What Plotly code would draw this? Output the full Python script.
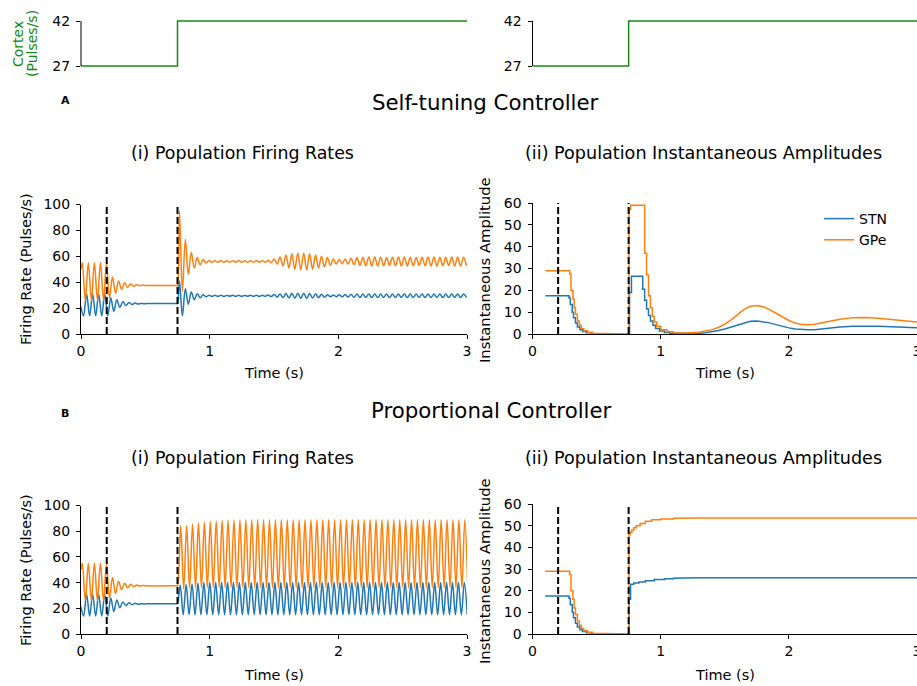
import plotly.graph_objects as go

# ---------------- data ----------------
TIME_RANGE = [0, 3]
TIME_TICKS = [0, 1, 2, 3]
RATE_RANGE = [0, 100]
RATE_TICKS = [0, 20, 40, 60, 80, 100]
AMP_RANGE = [0, 60]
AMP_TICKS = [0, 10, 20, 30, 40, 50, 60]
CORTEX_RANGE = [26.5, 42.5]
CORTEX_TICKS = [27, 42]
EVENT_TIMES = [0.2, 0.75]

CORTEX_T = [0.0, 0.75, 3.0]
CORTEX_RATE = [27, 42, 42]

# Firing rates: successive extrema (peak / trough) of the beta oscillation
PRE_HALF_PERIOD = 0.0235
POST_HALF_PERIOD = 0.023

# shared part, 0 - 0.75 s
PRE_T0 = 0.0
PRE_GPE_V0 = 50
PRE_STN_V0 = 21
PRE_GPE_START = 0.01
PRE_GPE_EXTREMA = [55, 26, 55, 26, 55, 26, 55, 26, 54, 28, 44, 31.5, 41, 34.5,
                   39.5, 36, 38.7, 36.8, 38.1, 37.3, 37.8, 37.5]
PRE_STN_START = 0.02
PRE_STN_EXTREMA = [14, 31, 14, 31, 14, 31, 14, 31, 14, 28, 17.5, 26.5, 20.5, 25,
                   22, 24.3, 22.8, 23.9, 23.2, 23.6, 23.4, 23.5]
PRE_FLAT_T = [0.745, 0.75]
PRE_GPE_STEADY = 37.5
PRE_STN_STEADY = 23.5

# A: self-tuning controller, after 0.75 s
A_POST_START = 0.765
A_POST_GPE = [95, 33, 73, 46, 63, 51, 59, 53.5, 57.5, 54.8, 56.8, 55.3,
              56.6, 55.4, 56.7, 55.3, 56.6, 55.4, 56.6, 55.5, 56.7, 55.4,
              56.6, 55.4, 56.6, 55.3, 56.7, 55.4, 56.6, 55.4,
              57, 55, 58, 54, 59.5, 52.5, 61, 51, 62, 50,
              62.5, 49.5, 62.5, 49.5, 62, 50, 61, 51, 60, 52,
              59, 53, 58, 54, 57.8, 54.2, 58, 54, 58.5, 53.5,
              59, 53, 59.3, 52.7, 59.5, 52.5, 59.5, 52.5, 59.3, 52.7,
              59, 53, 59.3, 52.7, 59.5, 52.5, 59.5, 52.5, 59.3, 52.7,
              59, 53, 59.3, 52.7, 59.5, 52.5, 59.5, 52.5, 59.3, 52.7,
              59.2, 52.8, 59.5, 52.5, 59.5, 52.5, 59.3, 52.7]
A_POST_STN = [41, 14, 35, 23, 32.5, 26.5, 31, 28, 30.3, 28.8, 29.9, 29.1,
              29.9, 29.1, 29.9, 29.1, 29.8, 29.2, 29.9, 29.1, 29.9, 29.1,
              29.8, 29.2, 29.9, 29.1, 29.9, 29.1, 29.9, 29.1,
              30.1, 28.9, 30.5, 28.5, 30.9, 28.1, 31.2, 27.8, 31.4, 27.6,
              31.5, 27.5, 31.5, 27.5, 31.2, 27.8, 30.9, 28.1, 30.6, 28.4,
              30.3, 28.7, 30.2, 28.8, 30.3, 28.7, 30.5, 28.5, 30.7, 28.3,
              30.8, 28.2, 30.8, 28.2, 30.9, 28.1, 30.8, 28.2, 30.8, 28.2,
              30.9, 28.1, 30.8, 28.2, 30.8, 28.2, 30.9, 28.1, 30.8, 28.2,
              30.8, 28.2, 30.9, 28.1, 30.8, 28.2, 30.8, 28.2, 30.9, 28.1,
              30.8, 28.2, 30.8, 28.2, 30.9, 28.1, 30.8, 28.2]

# B: proportional controller, after 0.75 s
B_POST_START = 0.775
B_STN_SHIFT = -0.004
B_GPE_PEAKS = [84, 84.5, 85.5, 86.3, 87, 87.5, 88, 88.3, 88.6, 88.8,
               89, 89, 89, 89, 89, 89, 89, 89, 89, 89,
               89, 89, 89, 89, 89, 89, 89, 89, 89, 89,
               89, 89, 89, 89, 89, 89, 89, 89, 89, 89,
               89, 89, 89, 89, 89, 89, 89, 89, 89]
B_GPE_TROUGHS = [35, 35.5, 36, 36, 36, 36, 36, 36, 36, 36,
                 36, 36, 36, 36, 36, 36, 36, 36, 36, 36,
                 36, 36, 36, 36, 36, 36, 36, 36, 36, 36,
                 36, 36, 36, 36, 36, 36, 36, 36, 36, 36,
                 36, 36, 36, 36, 36, 36, 36, 36, 36]
B_STN_PEAKS = [38, 38.5, 39, 39.5, 39.8, 40, 40, 40, 40, 40,
               40, 40, 40, 40, 40, 40, 40, 40, 40, 40,
               40, 40, 40, 40, 40, 40, 40, 40, 40, 40,
               40, 40, 40, 40, 40, 40, 40, 40, 40, 40,
               40, 40, 40, 40, 40, 40, 40, 40, 40]
B_STN_TROUGHS = [15, 15, 15, 15, 15, 15, 15, 15, 15, 15,
                 15, 15, 15, 15, 15, 15, 15, 15, 15, 15,
                 15, 15, 15, 15, 15, 15, 15, 15, 15, 15,
                 15, 15, 15, 15, 15, 15, 15, 15, 15, 15,
                 15, 15, 15, 15, 15, 15, 15, 15, 15]

# Instantaneous amplitudes: stepped part (value held until next time) then smooth part
AMP_PRE_GPE_T = [0.1, 0.29, 0.30, 0.315, 0.325, 0.335, 0.35, 0.365, 0.38, 0.40,
                 0.43, 0.47, 0.52, 0.58]
AMP_PRE_GPE_V = [29, 27.5, 20, 16, 12, 9, 6, 4, 2.5, 1.5, 0.8, 0.3, 0.1, 0]
AMP_PRE_STN_T = [0.1, 0.285, 0.295, 0.31, 0.32, 0.335, 0.35, 0.37, 0.39, 0.42,
                 0.46, 0.5, 0.55]
AMP_PRE_STN_V = [17.5, 16.5, 13.5, 10, 7.5, 5, 3.2, 2, 1.2, 0.6, 0.25, 0.1, 0]

A_AMP_GPE_STEP_T = [0.753, 0.765, 0.875, 0.89, 0.905, 0.92, 0.935, 0.95, 0.97, 1.0, 1.05, 1.1]
A_AMP_GPE_STEP_V = [57, 59, 37, 27, 17.5, 12, 8, 5.5, 3.5, 2, 1, 0.6]
A_AMP_STN_STEP_T = [0.757, 0.772, 0.86, 0.875, 0.89, 0.905, 0.92, 0.94, 0.96, 0.99, 1.03, 1.07, 1.1]
A_AMP_STN_STEP_V = [19, 26.5, 20.5, 15.5, 11.5, 8.5, 6, 4, 2.5, 1.4, 0.7, 0.35, 0.2]
A_AMP_SMOOTH_T = [1.1, 1.2, 1.3, 1.35, 1.4, 1.45, 1.5, 1.55, 1.6, 1.65, 1.7, 1.75, 1.8,
                  1.85, 1.9, 1.95, 2.0, 2.05, 2.1, 2.15, 2.2, 2.3, 2.4, 2.5, 2.6, 2.7,
                  2.8, 2.9, 3.0]
A_AMP_GPE_SMOOTH = [0.6, 0.5, 0.8, 1.3, 2.0, 3.0, 4.5, 6.5, 9.0, 11.3, 12.7, 13.0, 12.5,
                    11.2, 9.5, 7.7, 6.2, 5.0, 4.3, 4.2, 4.5, 5.6, 6.8, 7.5, 7.6, 7.2,
                    6.6, 5.9, 5.5]
A_AMP_STN_SMOOTH = [0.2, 0.2, 0.4, 0.6, 1.0, 1.6, 2.3, 3.2, 4.3, 5.2, 5.8, 6.0, 5.7,
                    5.1, 4.3, 3.5, 2.8, 2.3, 2.0, 1.9, 2.0, 2.7, 3.2, 3.6, 3.7, 3.6,
                    3.3, 3.0, 2.9]

B_AMP_GPE_STEP_T = [0.753, 0.762, 0.775, 0.79, 0.81, 0.84, 0.88, 0.93, 1.0, 1.1]
B_AMP_GPE_STEP_V = [46, 47, 48, 49, 50, 51, 52, 52.7, 53.1, 53.4]
B_AMP_STN_STEP_T = [0.753, 0.765, 0.79, 0.83, 0.88, 0.95, 1.03, 1.1]
B_AMP_STN_STEP_V = [16, 23, 23.5, 24, 24.6, 25.1, 25.5, 25.7]
B_AMP_SMOOTH_T = [1.1, 1.3, 3.0]
B_AMP_GPE_SMOOTH = [53.4, 53.5, 53.5]
B_AMP_STN_SMOOTH = [25.7, 26, 26]

STN_COLOR = "#1f77b4"
GPE_COLOR = "#ff7f0e"
CORTEX_COLOR = "#138a13"

W, H = 917, 686
FONT = "DejaVu Sans"


# ---------------- helpers ----------------
def extrema_times(start, half, n):
    return [start + half * k for k in range(n)]


def interleave(a, b):
    out = []
    for i in range(max(len(a), len(b))):
        if i < len(a):
            out.append(a[i])
        if i < len(b):
            out.append(b[i])
    return out


def steps_xy(t, v):
    xs, ys = [], []
    for i in range(len(t)):
        if i > 0:
            xs.append(t[i])
            ys.append(v[i - 1])
        xs.append(t[i])
        ys.append(v[i])
    return xs, ys


def pre_series(v0, start, extrema, steady):
    x = [PRE_T0] + extrema_times(start, PRE_HALF_PERIOD, len(extrema)) + PRE_FLAT_T
    y = [v0] + extrema + [steady] * len(PRE_FLAT_T)
    return x, y


def px(x):
    return x / W


def py(y):
    return 1 - y / H


pre_gpe_x, pre_gpe_y = pre_series(PRE_GPE_V0, PRE_GPE_START, PRE_GPE_EXTREMA, PRE_GPE_STEADY)
pre_stn_x, pre_stn_y = pre_series(PRE_STN_V0, PRE_STN_START, PRE_STN_EXTREMA, PRE_STN_STEADY)

a_gpe_x = pre_gpe_x + extrema_times(A_POST_START, POST_HALF_PERIOD, len(A_POST_GPE))
a_gpe_y = pre_gpe_y + A_POST_GPE
a_stn_x = pre_stn_x + extrema_times(A_POST_START, POST_HALF_PERIOD, len(A_POST_STN))
a_stn_y = pre_stn_y + A_POST_STN

b_gpe_v = interleave(B_GPE_PEAKS, B_GPE_TROUGHS)
b_stn_v = interleave(B_STN_PEAKS, B_STN_TROUGHS)
b_gpe_x = pre_gpe_x + extrema_times(B_POST_START, POST_HALF_PERIOD, len(b_gpe_v))
b_gpe_y = pre_gpe_y + b_gpe_v
b_stn_x = pre_stn_x + extrema_times(B_POST_START + B_STN_SHIFT, POST_HALF_PERIOD, len(b_stn_v))
b_stn_y = pre_stn_y + b_stn_v


def amp_series(pre_t, pre_v, step_t, step_v, smooth_t, smooth_v):
    xs, ys = steps_xy(pre_t + step_t, pre_v + step_v)
    return xs + smooth_t[1:], ys + smooth_v[1:]


amp_a_gpe = amp_series(AMP_PRE_GPE_T, AMP_PRE_GPE_V, A_AMP_GPE_STEP_T, A_AMP_GPE_STEP_V,
                       A_AMP_SMOOTH_T, A_AMP_GPE_SMOOTH)
amp_a_stn = amp_series(AMP_PRE_STN_T, AMP_PRE_STN_V, A_AMP_STN_STEP_T, A_AMP_STN_STEP_V,
                       A_AMP_SMOOTH_T, A_AMP_STN_SMOOTH)
amp_b_gpe = amp_series(AMP_PRE_GPE_T, AMP_PRE_GPE_V, B_AMP_GPE_STEP_T, B_AMP_GPE_STEP_V,
                       B_AMP_SMOOTH_T, B_AMP_GPE_SMOOTH)
amp_b_stn = amp_series(AMP_PRE_STN_T, AMP_PRE_STN_V, B_AMP_STN_STEP_T, B_AMP_STN_STEP_V,
                       B_AMP_SMOOTH_T, B_AMP_STN_SMOOTH)

# ---------------- figure ----------------
fig = go.Figure()

# cortex input panels
for i in (1, 2):
    fig.add_trace(go.Scatter(x=CORTEX_T, y=CORTEX_RATE, mode="lines", line_shape="hv",
                             line=dict(color=CORTEX_COLOR, width=1.5), showlegend=False,
                             xaxis=f"x{'' if i == 1 else i}", yaxis=f"y{'' if i == 1 else i}",
                             hoverinfo="skip"))


def add_events(ax, top):
    for t in EVENT_TIMES:
        fig.add_trace(go.Scatter(x=[t, t], y=[0, top], mode="lines",
                                 line=dict(color="black", width=2, dash="7px,3px"),
                                 showlegend=False, xaxis=f"x{ax}", yaxis=f"y{ax}",
                                 hoverinfo="skip"))


# A(i)
fig.add_trace(go.Scatter(x=a_stn_x, y=a_stn_y, mode="lines", line_shape="spline",
                         line=dict(color=STN_COLOR, width=1.5), showlegend=False,
                         xaxis="x3", yaxis="y3"))
fig.add_trace(go.Scatter(x=a_gpe_x, y=a_gpe_y, mode="lines", line_shape="spline",
                         line=dict(color=GPE_COLOR, width=1.5), showlegend=False,
                         xaxis="x3", yaxis="y3"))
add_events(3, RATE_RANGE[1])

# A(ii)
fig.add_trace(go.Scatter(x=amp_a_stn[0], y=amp_a_stn[1], mode="lines", name="STN",
                         line=dict(color=STN_COLOR, width=1.5), showlegend=True,
                         xaxis="x4", yaxis="y4"))
fig.add_trace(go.Scatter(x=amp_a_gpe[0], y=amp_a_gpe[1], mode="lines", name="GPe",
                         line=dict(color=GPE_COLOR, width=1.5), showlegend=True,
                         xaxis="x4", yaxis="y4"))
add_events(4, AMP_RANGE[1])

# B(i)
fig.add_trace(go.Scatter(x=b_stn_x, y=b_stn_y, mode="lines", line_shape="spline",
                         line=dict(color=STN_COLOR, width=1.5), showlegend=False,
                         xaxis="x5", yaxis="y5"))
fig.add_trace(go.Scatter(x=b_gpe_x, y=b_gpe_y, mode="lines", line_shape="spline",
                         line=dict(color=GPE_COLOR, width=1.5), showlegend=False,
                         xaxis="x5", yaxis="y5"))
add_events(5, RATE_RANGE[1])

# B(ii)
fig.add_trace(go.Scatter(x=amp_b_stn[0], y=amp_b_stn[1], mode="lines",
                         line=dict(color=STN_COLOR, width=1.5), showlegend=False,
                         xaxis="x6", yaxis="y6"))
fig.add_trace(go.Scatter(x=amp_b_gpe[0], y=amp_b_gpe[1], mode="lines",
                         line=dict(color=GPE_COLOR, width=1.5), showlegend=False,
                         xaxis="x6", yaxis="y6"))
add_events(6, AMP_RANGE[1])

AX = dict(showline=True, linecolor="black", linewidth=1, ticks="outside", ticklen=4,
          tickwidth=1, tickcolor="black", showgrid=False, zeroline=False, automargin=False,
          ticklabeloverflow="allow",
          tickfont=dict(size=14, color="black", family=FONT))
AXY = dict(AX, ticklabelstandoff=3)

LX = [px(81), px(467)]
RX = [px(532.5), 1.0]
CORT_Y = [py(67.5), py(19.5)]
A_RATE_Y = [py(334), py(204.5)]
A_AMP_Y = [py(334), py(203)]
B_RATE_Y = [py(634), py(505.5)]
B_AMP_Y = [py(634), py(504)]

cortex_x = dict(visible=False, range=TIME_RANGE, showgrid=False, zeroline=False,
                automargin=False)
cortex_y = dict(AXY, showline=False, range=CORTEX_RANGE, tickvals=CORTEX_TICKS)

fig.update_layout(
    width=W, height=H,
    margin=dict(l=0, r=0, t=0, b=0, pad=0, autoexpand=False),
    paper_bgcolor="white", plot_bgcolor="white",
    font=dict(family=FONT, size=14, color="black"),
    xaxis=dict(cortex_x, domain=LX, anchor="y"),
    yaxis=dict(cortex_y, domain=CORT_Y, anchor="x"),
    xaxis2=dict(cortex_x, domain=RX, anchor="y2"),
    yaxis2=dict(cortex_y, domain=CORT_Y, anchor="x2"),
    xaxis3=dict(AX, domain=LX, anchor="y3", range=TIME_RANGE, tickvals=TIME_TICKS),
    yaxis3=dict(AXY, domain=A_RATE_Y, anchor="x3", range=RATE_RANGE, tickvals=RATE_TICKS),
    xaxis4=dict(AX, domain=RX, anchor="y4", range=TIME_RANGE, tickvals=TIME_TICKS),
    yaxis4=dict(AXY, domain=A_AMP_Y, anchor="x4", range=AMP_RANGE, tickvals=AMP_TICKS),
    xaxis5=dict(AX, domain=LX, anchor="y5", range=TIME_RANGE, tickvals=TIME_TICKS),
    yaxis5=dict(AXY, domain=B_RATE_Y, anchor="x5", range=RATE_RANGE, tickvals=RATE_TICKS),
    xaxis6=dict(AX, domain=RX, anchor="y6", range=TIME_RANGE, tickvals=TIME_TICKS),
    yaxis6=dict(AXY, domain=B_AMP_Y, anchor="x6", range=AMP_RANGE, tickvals=AMP_TICKS),
    legend=dict(x=px(819), y=py(203), xanchor="left", yanchor="top",
                bgcolor="rgba(0,0,0,0)", font=dict(size=14, family=FONT),
                tracegroupgap=0),
)

# cortex spines bounded to the 27-42 range
for xr, yr in (("x domain", "y"), ("x2 domain", "y2")):
    fig.add_shape(type="line", xref=xr, yref=yr, x0=0, x1=0,
                  y0=CORTEX_TICKS[0], y1=CORTEX_TICKS[-1],
                  line=dict(color="black", width=1))


def ann(text, x, y, size=14, **kw):
    d = dict(text=text, x=px(x), y=py(y), xref="paper", yref="paper", showarrow=False,
             xanchor="center", yanchor="middle", font=dict(size=size, family=FONT,
                                                           color=kw.pop("color", "black")))
    d.update(kw)
    fig.add_annotation(**d)


ann("Cortex", 18, 44, textangle=-90, color=CORTEX_COLOR)
ann("(Pulses/s)", 32, 44, textangle=-90, color=CORTEX_COLOR)
ann("<b>A</b>", 65, 101, size=11)
ann("Self-tuning Controller", 486, 103, size=21.3)
ann("(i) Population Firing Rates", 243, 153, size=17.4)
ann("(ii) Population Instantaneous Amplitudes", 703, 153, size=17.6)
ann("Firing Rate (Pulses/s)", 26, 269, size=14.5, textangle=-90)
ann("Instantaneous Amplitude", 484, 270, size=14.8, textangle=-90)
ann("Time (s)", 274, 373, size=14.5)
ann("Time (s)", 725, 373, size=14.5)
ann("<b>B</b>", 65, 413, size=11)
ann("Proportional Controller", 491, 410, size=21.3)
ann("(i) Population Firing Rates", 243, 458, size=17.4)
ann("(ii) Population Instantaneous Amplitudes", 703, 458, size=17.6)
ann("Firing Rate (Pulses/s)", 26, 570, size=14.5, textangle=-90)
ann("Instantaneous Amplitude", 484, 571, size=14.8, textangle=-90)
ann("Time (s)", 274, 675, size=14.5)
ann("Time (s)", 725, 675, size=14.5)

fig.write_html("out.html", post_script="document.body.style.margin='0';",
               config={"displayModeBar": False})
